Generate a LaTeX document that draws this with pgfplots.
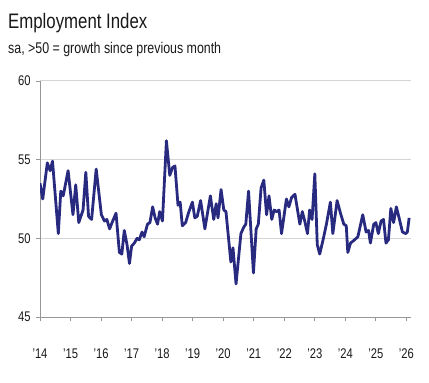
\documentclass[border=0pt]{standalone}
\usepackage{pgfplots}
\pgfplotsset{compat=1.18}
\usepackage{fontspec}
\setmainfont{Liberation Sans}[FakeStretch=0.8]
\definecolor{navy}{RGB}{40,42,128}
\definecolor{gridc}{RGB}{212,212,212}
\definecolor{axc}{RGB}{150,150,150}
\definecolor{txt}{RGB}{25,25,25}
\begin{document}
\begin{tikzpicture}
\useasboundingbox (0,0) rectangle (429bp,383bp);
\node[anchor=base west, inner sep=0, text=txt, font=\fontsize{21bp}{24bp}\selectfont] at (8bp,354.7bp) {Employment Index};
\node[anchor=base west, inner sep=0, text=txt, font=\fontsize{15.5bp}{18bp}\selectfont] at (8bp,329bp) {sa, >50 = growth since previous month};
\begin{axis}[
  at={(40bp,66bp)}, anchor=south west,
  scale only axis, width=371bp, height=236bp,
  xmin=2014, xmax=2026.15, ymin=45, ymax=60,
  axis x line=bottom, axis y line=left,
  axis line style={draw=axc, line width=1bp, -},
  xtick={2014,2015,2016,2017,2018,2019,2020,2021,2022,2023,2024,2025,2026},
  xticklabels={'14,'15,'16,'17,'18,'19,'20,'21,'22,'23,'24,'25,'26},
  ytick={45,50,55,60},
  tick align=outside, major tick length=4bp,
  tick style={draw=axc, line width=0.8bp},
  ymajorgrids, grid style={draw=gridc, line width=1bp},
  /pgf/number format/assume math mode=true,
  ticklabel style={font=\fontsize{14bp}{16bp}\selectfont, text=txt},
  xticklabel style={yshift=-24bp},
  yticklabel style={xshift=-2bp},
]
\addplot[navy, line width=2.8bp, line join=round] coordinates {
(2014.00,53.5)(2014.09,52.5)(2014.24,54.8)(2014.33,54.3)(2014.41,54.9)(2014.60,50.3)(2014.68,53.0)(2014.76,52.7)(2014.92,54.3)
(2015.08,51.5)(2015.17,53.4)(2015.27,51.0)(2015.41,51.8)(2015.50,54.2)(2015.59,51.4)(2015.69,51.2)(2015.84,54.4)
(2016.01,51.5)(2016.11,51.1)(2016.19,51.2)(2016.28,50.6)(2016.36,51.0)(2016.49,51.6)(2016.60,49.1)(2016.68,49.0)(2016.76,50.5)(2016.85,49.6)(2016.93,48.4)
(2017.00,49.5)(2017.09,49.7)(2017.18,50.0)(2017.25,49.9)(2017.34,50.4)(2017.41,50.1)(2017.52,50.9)(2017.60,51.0)(2017.69,52.0)(2017.77,51.3)(2017.85,50.9)(2017.92,51.7)
(2018.01,51.1)(2018.14,56.2)(2018.25,54.0)(2018.34,54.5)(2018.42,54.6)(2018.52,52.1)(2018.59,52.3)(2018.66,50.8)(2018.77,51.0)(2018.86,51.6)(2018.99,52.3)
(2019.07,51.3)(2019.15,51.4)(2019.26,52.4)(2019.40,50.6)(2019.58,52.7)(2019.69,51.2)(2019.77,52.2)(2019.83,51.3)(2019.93,53.1)
(2020.02,51.8)(2020.09,51.7)(2020.25,48.5)(2020.32,49.4)(2020.42,47.1)(2020.58,50.3)(2020.67,50.7)(2020.74,50.9)(2020.83,53.0)(2020.99,47.8)
(2021.08,50.6)(2021.15,50.9)(2021.24,53.2)(2021.33,53.7)(2021.42,51.5)(2021.50,52.7)(2021.59,51.2)(2021.67,51.8)(2021.75,51.7)(2021.83,51.8)(2021.91,50.3)
(2022.07,52.5)(2022.15,52.0)(2022.24,52.6)(2022.35,52.8)(2022.51,50.9)(2022.59,51.7)(2022.67,51.1)(2022.76,50.3)(2022.83,51.8)(2022.91,51.2)
(2023.00,54.1)(2023.08,49.6)(2023.16,49.0)(2023.27,49.9)(2023.38,50.9)(2023.51,52.3)(2023.59,50.3)(2023.73,52.4)(2023.84,51.6)(2023.95,50.9)
(2024.03,50.8)(2024.08,49.1)(2024.17,49.7)(2024.30,49.9)(2024.41,50.1)(2024.57,51.5)(2024.68,50.4)(2024.76,50.5)(2024.82,49.7)(2024.93,50.9)
(2025.00,51.0)(2025.08,50.3)(2025.17,51.1)(2025.25,51.2)(2025.33,49.7)(2025.41,49.9)(2025.49,51.9)(2025.58,51.0)(2025.67,52.0)(2025.76,51.3)(2025.87,50.4)(2025.98,50.3)
(2026.03,50.4)(2026.09,51.3)
};
\end{axis}
\end{tikzpicture}
\end{document}
